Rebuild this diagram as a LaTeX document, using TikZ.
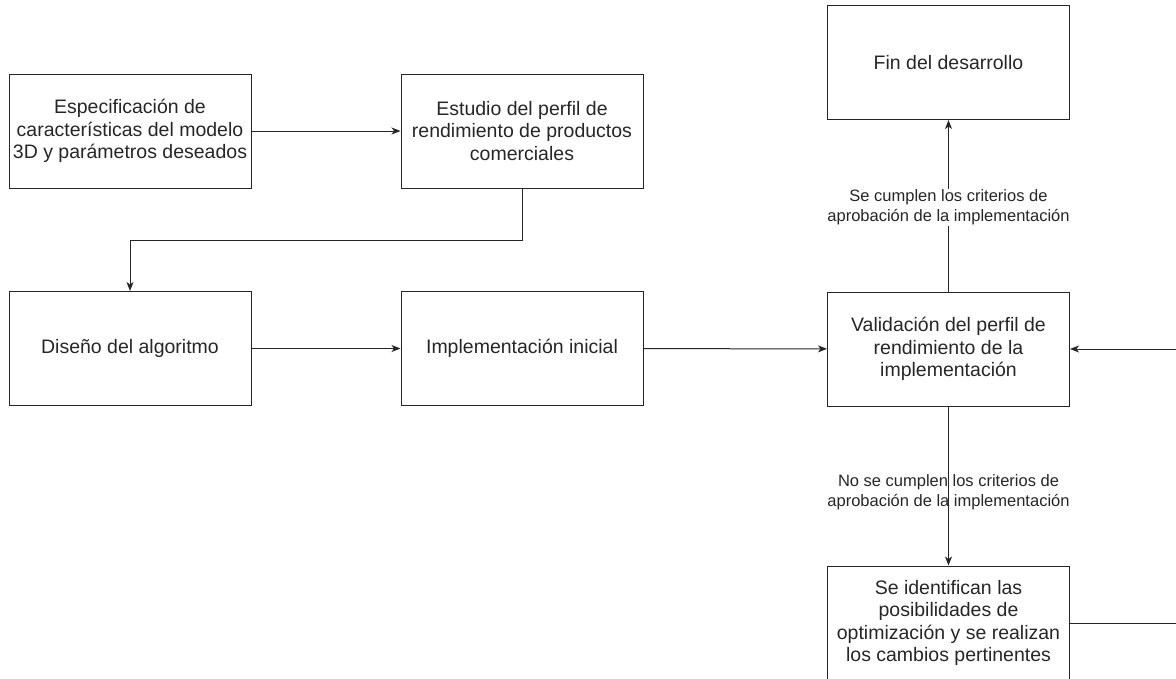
\documentclass[tikz,border=0pt]{standalone}
\usepackage{fontspec}
\setmainfont{Liberation Sans}
\usetikzlibrary{arrows.meta}
\begin{document}
\begin{tikzpicture}[x=1pt,y=-1pt,
  box/.style={draw=black!85, line width=1pt, minimum width=242pt, minimum height=114pt, align=center, font=\fontsize{19.5}{22.5}\selectfont, text=black!85, inner sep=0pt},
  arr/.style={draw=black!85, line width=1pt, -{Stealth[length=9pt,width=7pt,inset=2.5pt]}},
  lbl/.style={font=\fontsize{16.5}{20}\selectfont, align=center, text=black!85, inner sep=1pt}]
\useasboundingbox (0,0) rectangle (1176,678);
\clip (0,0) rectangle (1176,678);
\node[box] (b1) at (130,131) {Especificación de\\características del modelo\\3D y parámetros deseados};
\node[box] (b2) at (522,131) {Estudio del perfil de\\rendimiento de productos\\comerciales};
\node[box] (b3) at (130,348.5) {Diseño del algoritmo};
\node[box] (b4) at (522,348.5) {Implementación inicial};
\node[box] (b5) at (948.5,349) {Validación del perfil de\\rendimiento de la\\implementación};
\node[box] (fin) at (948.5,62.5) {Fin del desarrollo};
\node[box] (b7) at (948.5,623) {Se identifican las\\posibilidades de\\optimización y se realizan\\los cambios pertinentes};
\coordinate (loop) at (1182,623);
\draw[arr] (b1) -- (b2);
\draw[arr] (b2.south) -- ++(0,52) -| (b3.north);
\draw[arr] (b3) -- (b4);
\draw[arr] (b4) -- (b5);
\draw[arr] (b5) -- node[lbl, fill=white, pos=0.49] {Se cumplen los criterios de\\aprobación de la implementación} (fin);
\draw[arr] (b5) -- node[lbl, pos=0.54] {No se cumplen los criterios de\\aprobación de la implementación} (b7);
\draw[arr] (b7.east) -- (loop) |- (b5.east);
\end{tikzpicture}
\end{document}
